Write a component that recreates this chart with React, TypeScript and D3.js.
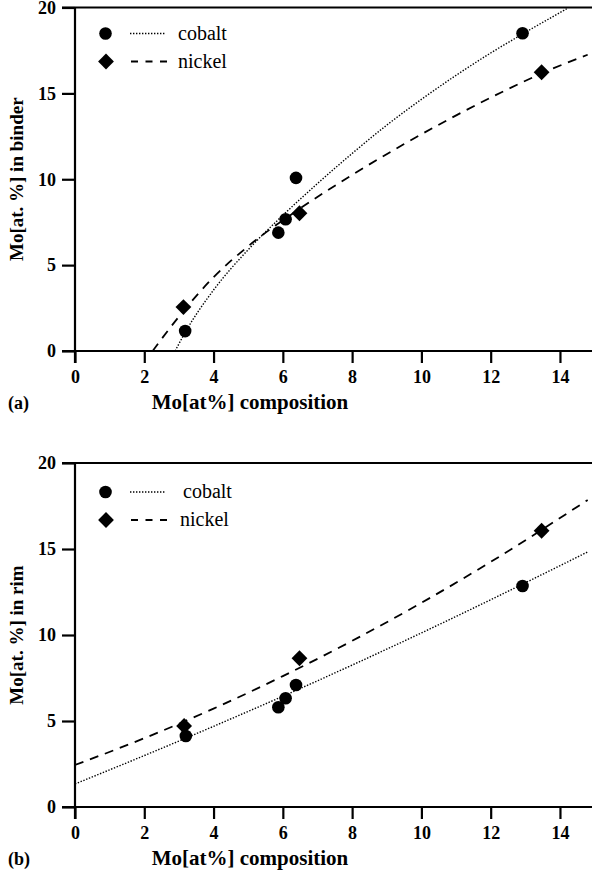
import * as React from 'react'
import { useEffect, useRef } from 'react'
import * as d3 from 'd3'

const xTicks = [0, 2, 4, 6, 8, 10, 12, 14]
const yTicks = [0, 5, 10, 15, 20]
const seriesNames = ['cobalt', 'nickel']

// (a) Mo in binder
const binderCobaltX = [3.18, 5.87, 6.08, 6.38, 12.92]
const binderCobaltY = [1.16, 6.89, 7.67, 10.08, 18.5]
const binderNickelX = [3.13, 6.48, 13.47]
const binderNickelY = [2.56, 8.02, 16.23]
const binderCobaltFitX = [2.89, 3.2, 4, 5, 6, 7, 8, 9, 10, 11, 12, 13, 14.2]
const binderCobaltFitY = [0, 1.15, 3.55, 5.9, 7.9, 9.75, 11.5, 13.15, 14.65, 16.05, 17.35, 18.55, 19.93]
const binderNickelFitX = [2.24, 3, 4, 5, 6.5, 8, 9.5, 10.8, 12.3, 13.8, 14.8]
const binderNickelFitY = [0, 2.0, 4.3, 6.1, 8.3, 10.25, 12.05, 13.5, 15.05, 16.45, 17.25]

// (b) Mo in rim
const rimCobaltX = [3.2, 5.87, 6.08, 6.38, 12.92]
const rimCobaltY = [4.13, 5.8, 6.32, 7.09, 12.85]
const rimNickelX = [3.15, 6.48, 13.47]
const rimNickelY = [4.71, 8.65, 16.06]
const rimCobaltFitX = [0, 2, 4, 6, 8, 10, 12, 14.8]
const rimCobaltFitY = [1.34, 2.99, 4.69, 6.44, 8.25, 10.12, 12.05, 14.83]
const rimNickelFitX = [0, 2, 4, 6, 8, 10, 12, 14.8]
const rimNickelFitY = [2.44, 4.0, 5.72, 7.61, 9.66, 11.87, 14.25, 17.85]

const panels = [
    {
        top: 7.5, bottom: 351, tag: '(a)', yTitle: 'Mo[at. %] in binder',
        cobalt: [binderCobaltX, binderCobaltY], nickel: [binderNickelX, binderNickelY],
        cobaltFit: [binderCobaltFitX, binderCobaltFitY], nickelFit: [binderNickelFitX, binderNickelFitY],
        legendDy: [26, 54], legendTx: [178, 178]
    },
    {
        top: 463, bottom: 807, tag: '(b)', yTitle: 'Mo[at. %] in rim',
        cobalt: [rimCobaltX, rimCobaltY], nickel: [rimNickelX, rimNickelY],
        cobaltFit: [rimCobaltFitX, rimCobaltFitY], nickelFit: [rimNickelFitX, rimNickelFitY],
        legendDy: [29, 57], legendTx: [183, 180]
    }
]

const serif = '"Liberation Serif", "DejaVu Serif", serif'
const dotted = '1.4,1.6'
const dashed = '9,7'

const App = () => {
    const chartRef = useRef(null)

    useEffect(() => {
        const svg = d3.select(chartRef.current)
        svg.selectAll('*').remove()

        const x = d3.scaleLinear().domain([0, 15]).range([75, 594.6])
        const diamond = d3.symbol().type(d3.symbolSquare).size(125)

        panels.forEach((p, pi) => {
            const y = d3.scaleLinear().domain([0, 20]).range([p.bottom, p.top])
            const g = svg.append('g').attr('font-family', serif)

            const clipId = 'clip' + pi
            g.append('clipPath').attr('id', clipId)
                .append('rect')
                .attr('x', x(0)).attr('y', y(20))
                .attr('width', 592 - x(0)).attr('height', y(0) - y(20))

            const line = d3.line<[number, number]>()
                .x(d => x(d[0]))
                .y(d => y(d[1]))
                .curve(d3.curveMonotoneX)

            g.append('path')
                .datum(d3.zip(p.cobaltFit[0], p.cobaltFit[1]))
                .attr('d', line as any)
                .attr('clip-path', `url(#${clipId})`)
                .attr('fill', 'none')
                .attr('stroke', '#000')
                .attr('stroke-width', 1.4)
                .attr('stroke-dasharray', dotted)

            g.append('path')
                .datum(d3.zip(p.nickelFit[0], p.nickelFit[1]))
                .attr('d', line as any)
                .attr('clip-path', `url(#${clipId})`)
                .attr('fill', 'none')
                .attr('stroke', '#000')
                .attr('stroke-width', 1.8)
                .attr('stroke-dasharray', dashed)

            g.selectAll('circle.pt')
                .data(d3.zip(p.cobalt[0], p.cobalt[1]))
                .enter()
                .append('circle')
                .attr('cx', d => x(d[0]))
                .attr('cy', d => y(d[1]))
                .attr('r', 6.3)
                .attr('fill', '#000')

            g.selectAll('path.dm')
                .data(d3.zip(p.nickel[0], p.nickel[1]))
                .enter()
                .append('path')
                .attr('d', diamond)
                .attr('transform', d => `translate(${x(d[0])},${y(d[1])}) rotate(45)`)
                .attr('fill', '#000')

            // axes
            const yAxis = d3.axisLeft(y).tickValues(yTicks).tickSize(13).tickPadding(6).tickFormat(d3.format('d'))
            const ya = g.append('g').attr('transform', `translate(${x(0)},0)`).call(yAxis)
            const xAxis = d3.axisBottom(x).tickValues(xTicks).tickSize(12).tickPadding(7).tickFormat(d3.format('d'))
            const xa = g.append('g').attr('transform', `translate(0,${y(0)})`).call(xAxis)

            ;[ya, xa].forEach(a => {
                a.attr('font-family', serif).attr('font-size', 18).attr('font-weight', 'bold')
                a.select('.domain').remove()
                a.selectAll('line').attr('stroke', '#000').attr('stroke-width', 2.2)
                a.selectAll('text').attr('fill', '#000')
            })

            g.append('line')
                .attr('x1', x(0)).attr('x2', x(0))
                .attr('y1', y(20)).attr('y2', y(0) + 12)
                .attr('stroke', '#000').attr('stroke-width', 2.2)
            g.append('line')
                .attr('x1', x(0) - 13).attr('x2', 592)
                .attr('y1', y(0)).attr('y2', y(0))
                .attr('stroke', '#000').attr('stroke-width', 2.2)
            g.append('line')
                .attr('x1', x(0) - 13).attr('x2', 592)
                .attr('y1', y(20)).attr('y2', y(20))
                .attr('stroke', '#000').attr('stroke-width', 2.2)

            // titles
            g.append('text')
                .attr('x', 250)
                .attr('y', y(0) + 58)
                .attr('text-anchor', 'middle')
                .attr('font-weight', 'bold')
                .attr('font-size', 21)
                .text('Mo[at%] composition')

            g.append('text')
                .attr('x', 8)
                .attr('y', y(0) + 58)
                .attr('font-weight', 'bold')
                .attr('font-size', 18)
                .text(p.tag)

            g.append('text')
                .attr('transform', `translate(23,${(y(0) + y(20)) / 2}) rotate(-90)`)
                .attr('text-anchor', 'middle')
                .attr('font-weight', 'bold')
                .attr('font-size', 19)
                .text(p.yTitle)

            // legend
            const l1 = y(20) + p.legendDy[0]
            const l2 = y(20) + p.legendDy[1]
            g.append('circle').attr('cx', 105.5).attr('cy', l1).attr('r', 6.3).attr('fill', '#000')
            g.append('path').attr('d', diamond).attr('transform', `translate(106,${l2}) rotate(45)`).attr('fill', '#000')
            g.append('line').attr('x1', 130).attr('x2', 166).attr('y1', l1).attr('y2', l1)
                .attr('stroke', '#000').attr('stroke-width', 1.4).attr('stroke-dasharray', dotted)
            g.append('line').attr('x1', 131).attr('x2', 167).attr('y1', l2).attr('y2', l2)
                .attr('stroke', '#000').attr('stroke-width', 1.8).attr('stroke-dasharray', '7,7.5')
            ;[l1, l2].forEach((ly, i) => {
                g.append('text')
                    .attr('x', p.legendTx[i])
                    .attr('y', ly + 6)
                    .attr('font-size', 20)
                    .text(seriesNames[i])
            })
        })
    }, [])

    return (
        <div style={{ position: 'absolute', left: 0, top: 0 }}>
            <svg ref={chartRef} width={592} height={880} style={{ display: 'block', background: '#fff' }}></svg>
        </div>
    )
}

export default App
